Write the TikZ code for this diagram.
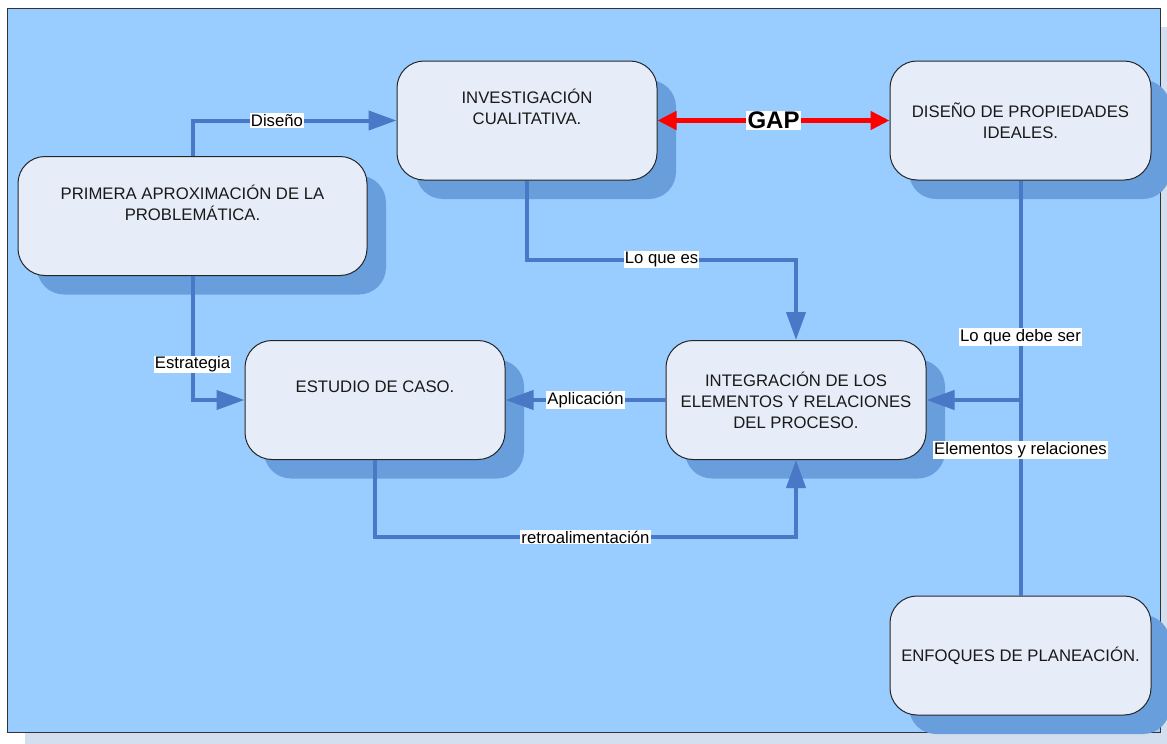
\documentclass[tikz,border=0pt]{standalone}
\usepackage{fontspec}
\setmainfont{Liberation Sans}
\usetikzlibrary{arrows.meta,shadows}
\definecolor{sheetblue}{HTML}{99CCFF}
\definecolor{sheetshade}{HTML}{D3DEEE}
\definecolor{boxfill}{HTML}{E7EDF8}
\definecolor{boxshade}{HTML}{689EDC}
\definecolor{flowblue}{HTML}{4878C6}
\newcommand{\boxfont}{\fontsize{16.7}{21}\selectfont}
\tikzstyle{sheet}=[draw=black!80, line width=1pt, fill=sheetblue]
\tikzstyle{stage}=[draw=black!85, line width=1pt, fill=boxfill, rounded corners=27pt,
                   inner sep=0, minimum width=260pt, minimum height=119pt,
                   align=center, font=\boxfont, text=black!90,
                   % offset shadow, as in the original
                   drop shadow={shadow xshift=19pt, shadow yshift=-19pt, fill=boxshade, opacity=1}]
\tikzstyle{flow}=[draw=flowblue, line width=4pt, -{Triangle[length=28pt, width=19pt]}]
\tikzstyle{flowtag}=[fill=white, inner sep=1pt, font=\boxfont, text=black]
\tikzstyle{gaplink}=[draw=red, line width=4.5pt, {Triangle[length=19pt, width=18pt]}-{Triangle[length=19pt, width=18pt]}]
\tikzstyle{gaptag}=[fill=white, inner sep=1.5pt, font=\fontsize{24}{27}\selectfont\bfseries]
\begin{document}
\begin{tikzpicture}[x=1pt, y=-1pt]
  \useasboundingbox (0,0) rectangle (1167,744);
  % sheet
  \fill[sheetshade] (25,27) rectangle (1167,744);
  \draw[sheet] (7,8) rectangle (1160,732);
  % stages
  \node[stage, minimum width=349pt] (primera) at (192.5,216) {PRIMERA APROXIMACIÓN DE LA\\PROBLEMÁTICA.\\\strut};
  \node[stage] (investigacion) at (527,120.5) {INVESTIGACIÓN\\CUALITATIVA.\\\strut};
  \node[stage, minimum width=261pt] (diseno) at (1020.5,120.5) {DISEÑO DE PROPIEDADES\\IDEALES.};
  \node[stage] (estudio) at (375,400) {ESTUDIO DE CASO.\\\strut};
  \node[stage] (integracion) at (796,400) {INTEGRACIÓN DE LOS\\ELEMENTOS Y RELACIONES\\DEL PROCESO.};
  \node[stage, minimum width=261pt] (enfoques) at (1020.5,655.5) {ENFOQUES DE PLANEACIÓN.};
  % connectors
  \draw[flow] (primera.north) |- node[flowtag, pos=.707] {Diseño} (investigacion.west);
  \draw[flow] (primera.south) |- node[flowtag, pos=.357] {Estrategia} (estudio.west);
  \draw[flow] (investigacion.south) -- ++(0,79) -| node[flowtag, pos=.25] {Lo que es} (integracion.north);
  \draw[flow] (integracion.west) -- node[flowtag] {Aplicación} (estudio.east);
  \draw[flow] (estudio.south) -- ++(0,77) -| node[flowtag, pos=.25] {retroalimentación} (integracion.south);
  \draw[flow, -] (diseno.south) -- node[flowtag, pos=.377] {Lo que debe ser}
                                   node[flowtag, pos=.649] {Elementos y relaciones} (enfoques.north);
  \coordinate (junta) at (diseno.south |- integracion.east);
  \draw[flow] (junta) -- (integracion.east);
  \draw[gaplink] (investigacion.east) -- node[gaptag] {GAP} (diseno.west);
\end{tikzpicture}
\end{document}
